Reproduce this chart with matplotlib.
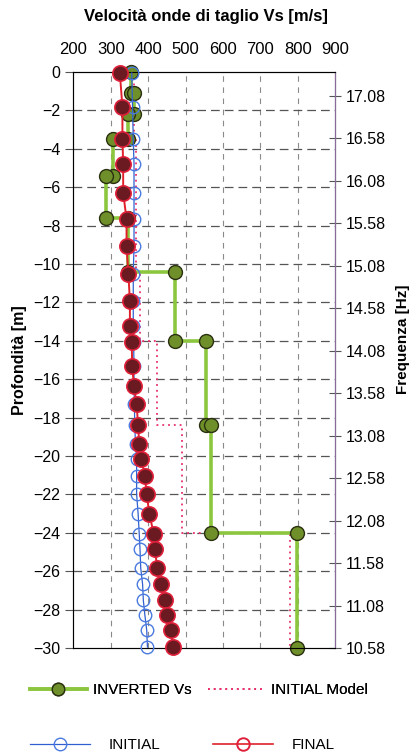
import numpy as np
import matplotlib
matplotlib.use("Agg")
import matplotlib.pyplot as plt
from matplotlib.lines import Line2D

plt.rcParams['font.family'] = ['Liberation Sans', 'DejaVu Sans']

# ---- inverted Vs profile (layers) ----
inv_bounds = [0, -1.1, -2.2, -3.5, -5.4, -7.6, -10.4, -14.0, -18.4, -24.0, -30.0]
inv_vs = [355, 362, 345, 305, 288, 347, 471, 556, 567, 797]

# ---- initial model (layers) ----
mod_bounds = [0, -3.5, -10.4, -14.0, -18.4, -24.0, -30.0]
mod_vs = [362, 368, 378, 424, 490, 780]

# ---- dispersion curves vs frequency ----
freq = [17.35, 16.95, 16.57, 16.28, 15.94, 15.63, 15.31, 14.98, 14.66, 14.37,
        14.18, 13.90, 13.66, 13.45, 13.20, 12.98, 12.80, 12.61, 12.39, 12.16,
        11.92, 11.75, 11.52, 11.33, 11.14, 10.97, 10.79, 10.59]
v_initial = [356, 358, 360, 362, 362, 362, 362, 360, 360, 360,
             361, 362, 362, 363, 364, 366, 369, 369, 369, 373,
             376, 378, 380, 385, 387, 391, 396, 398]
v_final = [324, 331, 331, 333, 333, 342, 342, 347, 351, 351,
           356, 357, 362, 369, 373, 376, 382, 391, 396, 403,
           415, 418, 424, 433, 445, 451, 460, 466]

freq_ticks = [10.58, 11.08, 11.58, 12.08, 12.58, 13.08, 13.58, 14.08,
              14.58, 15.08, 15.58, 16.08, 16.58, 17.08]


def steps(bounds, vs):
    x = np.repeat(vs, 2)
    y = np.column_stack([bounds[:-1], bounds[1:]]).ravel()
    return x, y


fig = plt.figure(figsize=(4.11, 7.56), dpi=100)
ax = fig.add_axes([0.1788, 0.1429, 0.6363, 0.7619])

# grid
for v in range(300, 900, 100):
    ax.axvline(v, color='#8a8a8a', lw=0.8, ls=(0, (5, 5)), zorder=0)
for d in range(-28, 0, 2):
    ax.axhline(d, color='#555555', lw=0.9, ls=(0, (7, 4)), zorder=0)

mx, my = steps(mod_bounds, mod_vs)
ax.plot(mx, my, color='#e8306a', lw=1.3, ls=(0, (1, 2.2)), zorder=2)

gx, gy = steps(inv_bounds, inv_vs)
ax.plot(gx, gy, color='#8cc63f', lw=2.6, marker='o', ms=10,
        mfc='#6e8f2a', mec='#2a3010', mew=1.0, zorder=3, clip_on=False)

ax.set_xlim(200, 900)
ax.set_ylim(-30, 0)
ax.xaxis.tick_top()
ax.set_xticks(range(200, 1000, 100))
ax.set_yticks(range(-30, 1, 2))
ax.tick_params(axis='x', length=0, labelsize=12, pad=11)
ax.tick_params(axis='y', length=6, direction='out', labelsize=11.5, color='#555555')
fig.text(0.5, 1 - 17 / 756, 'Velocità onde di taglio Vs [m/s]', fontsize=12,
         fontweight='bold', ha='center', va='center')
ax.set_ylabel('Profondità [m]', fontsize=11.5, fontweight='bold')
ax.yaxis.set_label_coords(-0.178, 0.5)
for s in ['left', 'bottom']:
    ax.spines[s].set_color('#555555')
ax.spines['top'].set_color('#222222')

ax2 = ax.twinx()
ax2.set_ylim(10.58, 17.362)
ax2.set_yticks(freq_ticks)
ax2.set_yticklabels([f'{t:.2f}' for t in freq_ticks])
ax2.tick_params(axis='y', length=8, direction='inout', labelsize=11.5, color='#555555')
ax2.spines['right'].set_color('#8a6a9a')
ax2.set_ylabel('Frequenza [Hz]', fontsize=11, fontweight='bold')
ax2.yaxis.set_label_coords(1.233, 0.536)

ax2.plot(v_initial, freq, color='#3060d0', lw=0.9, marker='o', ms=9,
         mfc='none', mec='#4a7ae0', mew=1.0, zorder=3, clip_on=False)
ax2.plot(v_final, freq, color='#e0202a', lw=1.4, marker='o', ms=11,
         mfc='#6a1a20', mec='#e0203a', mew=1.2, zorder=4, clip_on=False)

# legends
h_inv = Line2D([], [], color='#8cc63f', lw=2.6, marker='o', ms=9,
               mfc='#6e8f2a', mec='#2a3010')
h_mod = Line2D([], [], color='#e8306a', lw=1.3, ls=(0, (1, 2.2)))
leg1 = fig.legend([h_inv, h_mod], ['INVERTED Vs', 'INITIAL Model'], ncol=2,
                  loc='center left', bbox_to_anchor=(30 / 411, 1 - 690 / 756),
                  frameon=False, fontsize=11, handlelength=3.7, handletextpad=0.4,
                  columnspacing=1.1, borderpad=0, borderaxespad=0)
h_ini = Line2D([], [], color='#3060d0', lw=0.9, marker='o', ms=9,
               mfc='none', mec='#4a7ae0')
h_fin = Line2D([], [], color='#e0202a', lw=1.2, marker='o', ms=9,
               mfc='none', mec='#e0203a', mew=1.4)
leg2 = fig.legend([h_ini, h_fin], ['INITIAL', 'FINAL'], ncol=2,
                  loc='center left', bbox_to_anchor=(30 / 411, 1 - 745 / 756),
                  frameon=False, fontsize=11, handlelength=3.9, handletextpad=1.25,
                  columnspacing=3.45, borderpad=0, borderaxespad=0)
fig.add_artist(leg1)

fig.savefig('out.png', dpi=100)
